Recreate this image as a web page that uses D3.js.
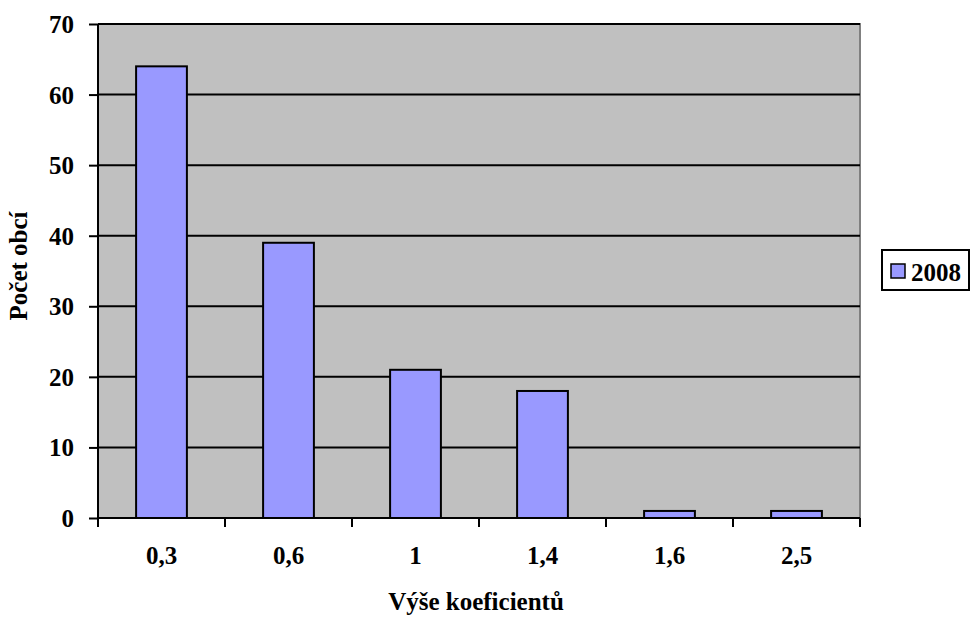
<!DOCTYPE html>
<html><head><meta charset="utf-8">
<script src="https://cdn.jsdelivr.net/npm/d3@7"></script>
<style>body{margin:0;background:#fff}svg{display:block}svg text{font-family:'Liberation Serif','Times New Roman',serif;font-weight:bold;fill:#000}</style>
</head><body>
<svg id="c" width="971" height="617"></svg>
<script>
const categories = ["0,3","0,6","1","1,4","1,6","2,5"];
const values2008 = [64,39,21,18,1,1];
const yTicks = [0,10,20,30,40,50,60,70];
const seriesName = "2008";

const FS = "25px";
const svg = d3.select("#c");
const L=98, R=860, T=24, B=518;
const x = d3.scaleBand().domain(categories).range([L,R]).paddingInner(0.6).paddingOuter(0.3);
const xb = d3.scaleBand().domain(categories).range([L,R]);
const y = d3.scaleLinear().domain([0,70]).range([B,T]);

svg.append("rect").attr("x",L).attr("y",T).attr("width",R-L).attr("height",B-T).attr("fill","#C0C0C0");
svg.append("path").attr("d",`M${L},${T}H${R}V${B}`).attr("fill","none").attr("stroke","#808080").attr("stroke-width",2);
svg.append("g").selectAll("line").data(yTicks.filter(d=>d>0)).join("line")
  .attr("x1",L).attr("x2",R).attr("y1",d=>y(d)).attr("y2",d=>y(d)).attr("stroke","#000").attr("stroke-width",2);
svg.append("g").selectAll("rect").data(values2008).join("rect")
  .attr("x",(d,i)=>x(categories[i])).attr("width",x.bandwidth())
  .attr("y",d=>y(d)).attr("height",d=>B-y(d))
  .attr("fill","#9999FF").attr("stroke","#000").attr("stroke-width",2);
const ya = svg.append("g").attr("transform",`translate(${L},0)`)
  .call(d3.axisLeft(y).tickValues(yTicks).tickSize(9).tickPadding(15).tickFormat(d3.format("d")));
ya.select(".domain").attr("stroke","#000").attr("stroke-width",2).attr("d",`M0,${T}V${B}`);
ya.selectAll(".tick line").attr("stroke","#000").attr("stroke-width",2);
ya.selectAll("text").style("font-size",FS).attr("dy","0.34em");
const xa = svg.append("g").attr("transform",`translate(0,${B})`);
xa.append("line").attr("x1",L).attr("x2",R).attr("stroke","#000").attr("stroke-width",2);
const bounds = categories.map(c=>xb(c)).concat([R]);
xa.selectAll(".tk").data(bounds).join("line").attr("class","tk")
  .attr("x1",d=>d).attr("x2",d=>d).attr("y1",0).attr("y2",9).attr("stroke","#000").attr("stroke-width",2);
xa.selectAll(".lb").data(categories).join("text").attr("class","lb")
  .attr("x",d=>xb(d)+xb.bandwidth()/2).attr("y",46).attr("text-anchor","middle")
  .style("font-size",FS).text(d=>d);
svg.append("text").attr("x",476).attr("y",610).attr("text-anchor","middle")
  .style("font-size",FS).text("Výše koeficientů");
svg.append("text").attr("transform",`translate(27,266) rotate(-90)`).attr("text-anchor","middle")
  .style("font-size",FS).text("Počet obcí");
const lg = svg.append("g");
lg.append("rect").attr("x",882).attr("y",250).attr("width",87).attr("height",40).attr("fill","#fff").attr("stroke","#000").attr("stroke-width",2);
lg.append("rect").attr("x",891).attr("y",264).attr("width",14).attr("height",14).attr("fill","#9999FF").attr("stroke","#000").attr("stroke-width",1.5);
lg.append("text").attr("x",911).attr("y",281).style("font-size",FS).text(seriesName);
</script>
</body></html>
